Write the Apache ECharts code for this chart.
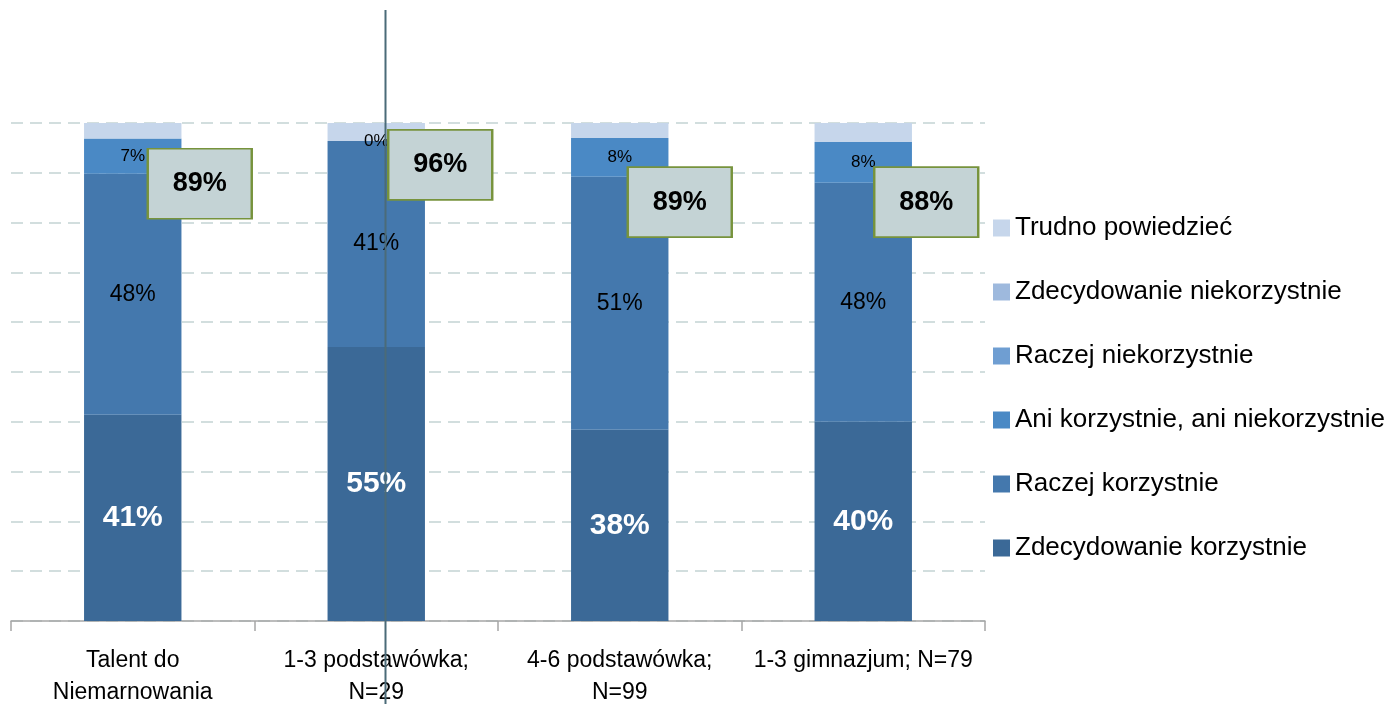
<!DOCTYPE html>
<html>
<head>
<meta charset="utf-8">
<script src="https://cdn.jsdelivr.net/npm/echarts@6/dist/echarts.min.js"></script>
<style>
  html, body { margin: 0; padding: 0; background: #fff; }
  #chart { width: 1392px; height: 704px; }
</style>
</head>
<body>
<div id="chart"></div>
<script>
// kategorie (oś X)
const categories = ['Talent do\nNiemarnowania', '1-3 podstawówka;\nN=29', '4-6 podstawówka;\nN=99', '1-3 gimnazjum; N=79'];

// wartości serii (%)
const zdecKorzystnie = [41.4, 55.0, 38.4, 40.0];
const raczejKorzystnie = [48.4, 41.4, 50.8, 48.0];
const aniAni = [7.1, 0, 7.8, 8.2];
const raczejNiekorzystnie = [null, null, null, null];
const zdecNiekorzystnie = [null, null, null, null];
const trudno = [3.1, 3.6, 3.0, 3.8];

// suma odpowiedzi korzystnych (ramki)
const sumaKorzystnie = [89, 96, 89, 88];
// wysokość środka ramki na osi Y
const ramkaY = [87.8, 91.6, 84.1, 84.1];
const ramkaPrzesuniecie = [67, 64, 60, 63];

const FONT = "'Liberation Sans', Arial, sans-serif";

const chart = echarts.init(document.getElementById('chart'));

function pct(p) { return Math.round(p.value) + '%'; }

function seg(name, data, color, label) {
    return {
        name: name,
        type: 'bar',
        stack: 'all',
        barWidth: '40%',
        data: data,
        itemStyle: { color: color },
        label: label,
        emphasis: { disabled: true }
    };
}

const option = {
    animation: false,
    grid: { left: 11, right: 407, top: 123, bottom: 83, containLabel: false, outerBoundsMode: 'none' },
    legend: {
        orient: 'vertical',
        left: 988,
        top: 206,
        itemWidth: 17,
        itemHeight: 17,
        itemGap: 30,
        icon: 'rect',
        textStyle: { fontFamily: FONT, fontSize: 26, lineHeight: 34, color: '#000' },
        data: ['Trudno powiedzieć', 'Zdecydowanie niekorzystnie', 'Raczej niekorzystnie',
               'Ani korzystnie, ani niekorzystnie', 'Raczej korzystnie', 'Zdecydowanie korzystnie']
    },
    xAxis: {
        type: 'category',
        data: categories,
        axisLine: { lineStyle: { color: '#A6A6A6', width: 1.5 } },
        axisTick: { show: true, interval: 0, length: 10, lineStyle: { color: '#A6A6A6', width: 1.5 } },
        axisLabel: { interval: 0, color: '#000', fontFamily: FONT, fontSize: 23, lineHeight: 32, margin: 24 }
    },
    yAxis: {
        type: 'value',
        min: 0,
        max: 100,
        interval: 10,
        axisLine: { show: false },
        axisTick: { show: false },
        axisLabel: { show: false },
        splitLine: { lineStyle: { color: '#C3D3D3', type: [12, 7], width: 1.5 } }
    },
    series: [
        seg('Zdecydowanie korzystnie', zdecKorzystnie, '#3B6997',
            { show: true, position: 'inside', formatter: pct, color: '#fff', fontWeight: 'bold', fontFamily: FONT, fontSize: 30 }),
        seg('Raczej korzystnie', raczejKorzystnie, '#4478AD',
            { show: true, position: 'inside', formatter: pct, color: '#000', fontFamily: FONT, fontSize: 23 }),
        seg('Ani korzystnie, ani niekorzystnie', aniAni, '#4A89C5',
            { show: true, position: 'inside', formatter: pct, color: '#000', fontFamily: FONT, fontSize: 17 }),
        seg('Raczej niekorzystnie', raczejNiekorzystnie, '#6F9ED2', { show: false }),
        seg('Zdecydowanie niekorzystnie', zdecNiekorzystnie, '#9EB9DD', { show: false }),
        seg('Trudno powiedzieć', trudno, '#C6D6EB', { show: false }),
        {
            name: 'suma',
            type: 'scatter',
            z: 5,
            symbol: 'rect',
            symbolSize: [104, 70],
            itemStyle: { color: '#C4D3D5', borderColor: '#77933C', borderWidth: 2, opacity: 1 },
            label: {
                show: true,
                position: 'inside',
                formatter: p => sumaKorzystnie[p.dataIndex] + '%',
                color: '#000',
                fontWeight: 'bold',
                fontFamily: FONT,
                fontSize: 27
            },
            emphasis: { disabled: true },
            data: ramkaY.map((v, i) => ({ value: [i, v], symbolOffset: [ramkaPrzesuniecie[i], 0] }))
        }
    ],
    graphic: [{
        type: 'line',
        z: 100,
        shape: { x1: 385.5, y1: 10, x2: 385.5, y2: 704 },
        style: { stroke: '#4B6B78', lineWidth: 2 }
    }]
};

chart.setOption(option);
</script>
</body>
</html>
